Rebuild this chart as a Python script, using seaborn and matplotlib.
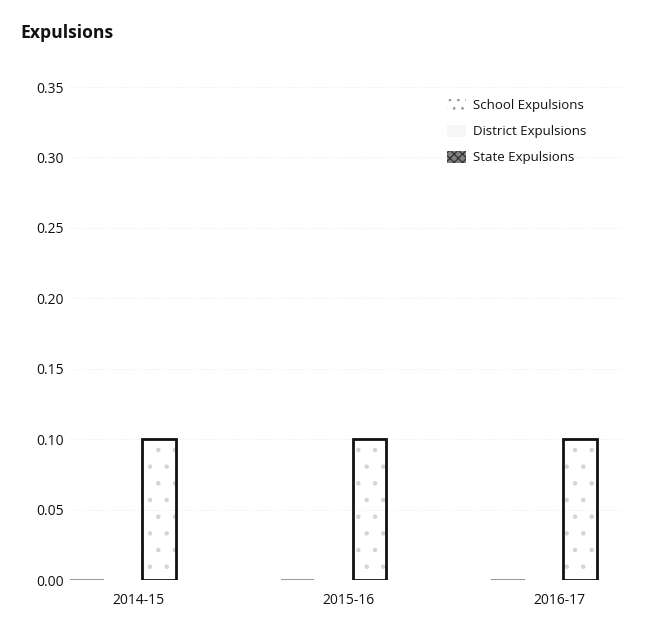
import matplotlib
matplotlib.use("Agg")
import matplotlib.pyplot as plt
import matplotlib.transforms as mtransforms
from matplotlib.patches import Patch, Rectangle
import pandas as pd
import seaborn as sns

# Expulsion rates by school year
years = ["2014-15", "2015-16", "2016-17"]
levels = ["School Expulsions", "District Expulsions", "State Expulsions"]
school_rate = [0.001, 0.001, 0.001]
district_rate = [0.0, 0.0, 0.0]
state_rate = [0.10, 0.10, 0.10]
y_ticks = [0.00, 0.05, 0.10, 0.15, 0.20, 0.25, 0.30, 0.35]

rows = []
for lvl, vals in zip(levels, [school_rate, district_rate, state_rate]):
    for yr, v in zip(years, vals):
        rows.append({"Year": yr, "Level": lvl, "Rate": v})
df = pd.DataFrame(rows)

sns.set_theme(style="white")
plt.rcParams["font.family"] = ["Open Sans", "DejaVu Sans"]
plt.rcParams["hatch.linewidth"] = 0.8

fig = plt.figure(figsize=(6.45, 6.39), dpi=100)
ax = fig.add_axes([0.1085, 0.0923, 0.8605, 0.7935])

sns.barplot(data=df, x="Year", y="Rate", hue="Level", order=years,
            hue_order=levels, width=0.513, gap=0.06, errorbar=None,
            legend=False, ax=ax)

# per-series styling of the bars
for lvl, cont in zip(levels, ax.containers):
    for p in cont.patches:
        if lvl == "School Expulsions":
            p.set_facecolor("#9a9a9a")
            p.set_edgecolor("none")
            p.set_linewidth(0)
        elif lvl == "District Expulsions":
            p.set_facecolor("#dddddd")
            p.set_edgecolor("none")
            p.set_linewidth(0)
        else:
            p.set_facecolor((1, 1, 1, 0))
            p.set_edgecolor("#d4d4d4")
            p.set_hatch(".")
            p.set_linewidth(0)
            ax.add_patch(Rectangle(p.get_xy(), p.get_width(), p.get_height(),
                                   fill=False, edgecolor="#111111",
                                   linewidth=2.0, zorder=3))

ax.set_xlim(-0.252, 2.385)
ax.set_ylim(0, 0.36)
ax.set_yticks(y_ticks)
ax.set_yticklabels([f"{t:.2f}" for t in y_ticks])
ax.set_xlabel("")
ax.set_ylabel("")
ax.yaxis.grid(True, color="#ececec", linestyle=":", linewidth=0.8)
ax.set_axisbelow(True)
for s in ax.spines.values():
    s.set_visible(False)
ax.tick_params(axis="both", length=0, labelsize=10, colors="#111111")
ax.tick_params(axis="y", pad=4.5)
ax.tick_params(axis="x", pad=9)

# year labels sit a little right of the cluster centre
shift = mtransforms.ScaledTranslation(0.15, 0, fig.dpi_scale_trans)
for lab in ax.get_xticklabels():
    lab.set_transform(lab.get_transform() + shift)

fig.text(20 / 645, 1 - 33 / 639, "Expulsions", fontsize=12.6,
         fontweight="bold", va="center", ha="left", color="#111111")

handles = [
    Patch(facecolor="white", edgecolor="#9a9a9a", hatch="..", linewidth=0),
    Patch(facecolor="#f6f6f6", edgecolor="none", linewidth=0),
    Patch(facecolor="#808080", edgecolor="#2a2a2a", hatch="xxxx", linewidth=0),
]
fig.legend(handles, levels, loc="upper left",
           bbox_to_anchor=(447 / 645, 1 - 99 / 639), frameon=False,
           fontsize=9.5, handlelength=1.45, handleheight=1.0,
           handletextpad=0.5, labelspacing=0.95, borderpad=0,
           borderaxespad=0, labelcolor="#111111")

fig.savefig("out.png", dpi=100)
